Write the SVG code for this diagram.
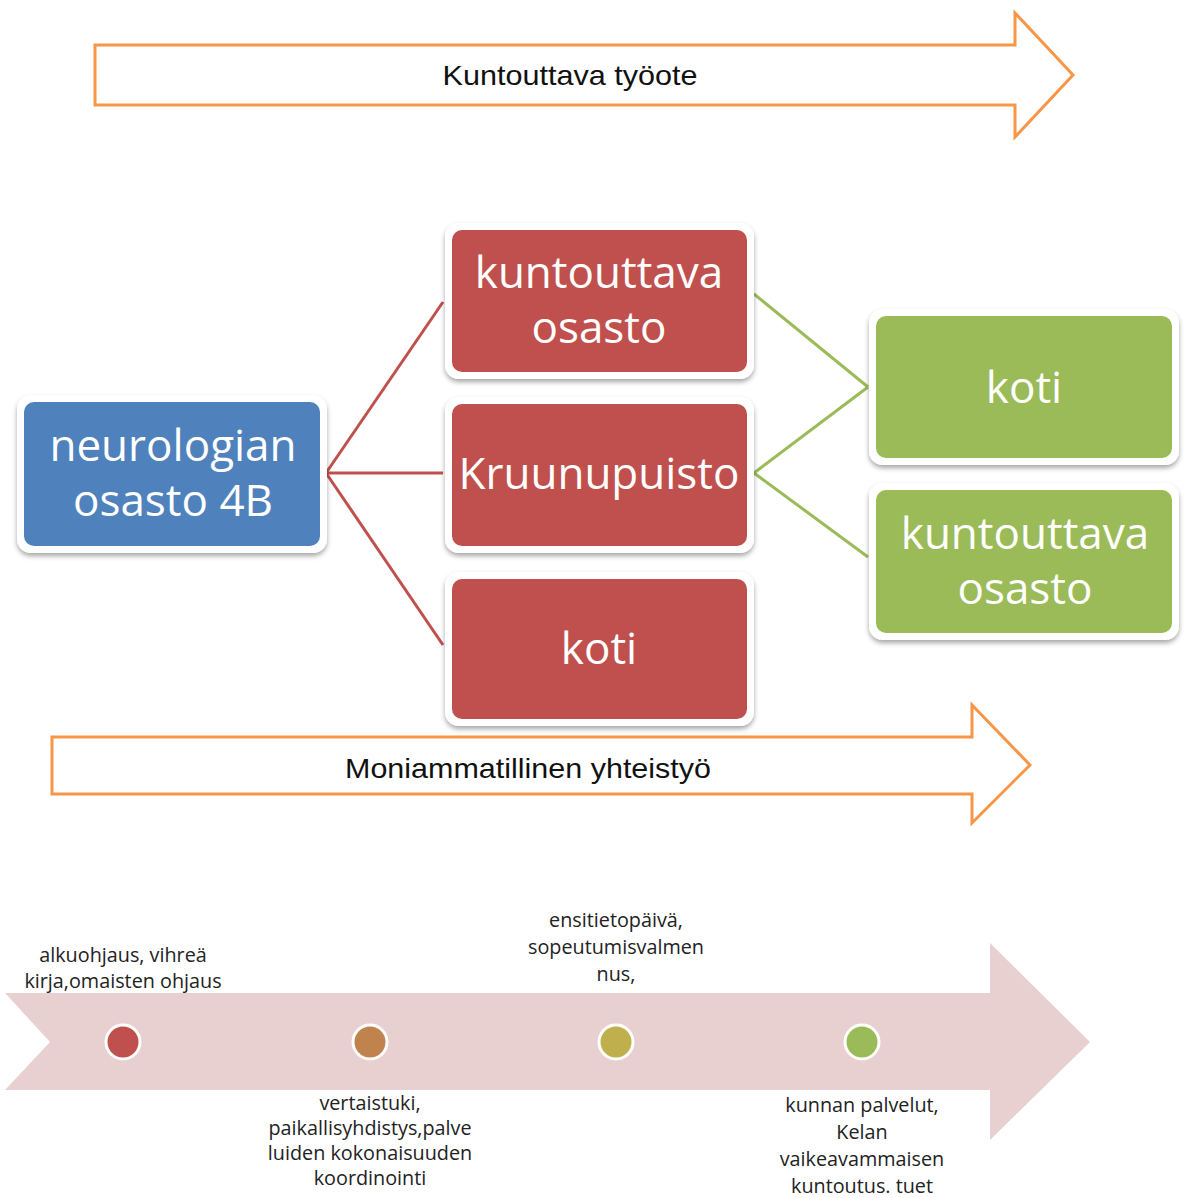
<svg xmlns="http://www.w3.org/2000/svg" width="1187" height="1198" viewBox="0 0 1187 1198">
<defs>
<filter id="sh" x="-10%" y="-10%" width="120%" height="130%">
<feDropShadow dx="0" dy="3" stdDeviation="2.5" flood-color="#000" flood-opacity="0.35"/>
</filter>
</defs>
<style>
.frame{fill:#fff;filter:url(#sh)}
.blue{fill:#4F81BD}
.red{fill:#C0504D}
.green{fill:#9BBB59}
.nt{font-family:"Open Sans","Noto Sans",sans-serif;font-size:44px;fill:#fff;text-anchor:middle}
.at{font-family:"Liberation Sans",Arial,sans-serif;font-size:28px;fill:#111;text-anchor:middle}
.bt{font-family:"Open Sans","Noto Sans",sans-serif;font-size:19.8px;fill:#222;text-anchor:middle}
.arr{fill:#fff;stroke:#F79646;stroke-width:3;stroke-linejoin:miter}
.dot{stroke:#fff;stroke-width:3}
</style>
<rect width="1187" height="1198" fill="#fff"/>

<g id="arrow-top">
<polygon class="arr" points="95,45 1015,45 1015,13 1073,75 1015,137 1015,105 95,105"/>
<text class="at" x="570" y="85" textLength="255" lengthAdjust="spacingAndGlyphs">Kuntouttava työote</text>
</g>

<g id="connectors" fill="none" stroke-width="3">
<g stroke="#C0504D">
<line x1="326" y1="473" x2="443" y2="302"/>
<line x1="326" y1="473" x2="443" y2="473"/>
<line x1="326" y1="473" x2="443" y2="645"/>
</g>
<g stroke="#9BBB59">
<line x1="754" y1="294" x2="868" y2="387"/>
<line x1="754" y1="473" x2="868" y2="387"/>
<line x1="754" y1="473" x2="868" y2="557"/>
</g>
</g>

<g id="node-neurologian">
<rect class="frame" x="17" y="395" width="310" height="158" rx="14"/>
<rect class="blue" x="24" y="402" width="296" height="144" rx="10"/>
<text class="nt" x="173" y="461">neurologian</text>
<text class="nt" x="173" y="516">osasto 4B</text>
</g>

<g id="node-kuntouttava-red">
<rect class="frame" x="445" y="223" width="309" height="156" rx="14"/>
<rect class="red" x="452" y="230" width="295" height="142" rx="10"/>
<text class="nt" x="599" y="288">kuntouttava</text>
<text class="nt" x="599" y="343">osasto</text>
</g>

<g id="node-kruunupuisto">
<rect class="frame" x="445" y="397" width="309" height="156" rx="14"/>
<rect class="red" x="452" y="404" width="295" height="142" rx="10"/>
<text class="nt" x="599" y="489">Kruunupuisto</text>
</g>

<g id="node-koti-red">
<rect class="frame" x="445" y="572" width="309" height="154" rx="14"/>
<rect class="red" x="452" y="579" width="295" height="140" rx="10"/>
<text class="nt" x="599" y="664">koti</text>
</g>

<g id="node-koti-green">
<rect class="frame" x="869" y="309" width="310" height="156" rx="14"/>
<rect class="green" x="876" y="316" width="296" height="142" rx="10"/>
<text class="nt" x="1024" y="403">koti</text>
</g>

<g id="node-kuntouttava-green">
<rect class="frame" x="869" y="483" width="310" height="157" rx="14"/>
<rect class="green" x="876" y="490" width="296" height="143" rx="10"/>
<text class="nt" x="1025" y="549">kuntouttava</text>
<text class="nt" x="1025" y="604">osasto</text>
</g>

<g id="arrow-middle">
<polygon class="arr" points="52,737 972,737 972,705 1030,765 972,823 972,794 52,794"/>
<text class="at" x="528" y="778" textLength="366" lengthAdjust="spacingAndGlyphs">Moniammatillinen yhteistyö</text>
</g>

<g id="timeline">
<polygon fill="#E8D0D0" points="5,993 990,993 990,943 1090,1042 990,1140 990,1090 5,1090 50,1042"/>
<circle class="dot" cx="123" cy="1042" r="17" fill="#C0504D"/>
<circle class="dot" cx="370" cy="1042" r="17" fill="#C0834D"/>
<circle class="dot" cx="616" cy="1042" r="17" fill="#C0B04D"/>
<circle class="dot" cx="862" cy="1042" r="17" fill="#9BBB59"/>
<text class="bt" x="123" y="962">alkuohjaus, vihreä</text>
<text class="bt" x="123" y="988">kirja,omaisten ohjaus</text>
<text class="bt" x="616" y="927">ensitietopäivä,</text>
<text class="bt" x="616" y="954">sopeutumisvalmen</text>
<text class="bt" x="616" y="981">nus,</text>
<text class="bt" x="370" y="1110">vertaistuki,</text>
<text class="bt" x="370" y="1135">paikallisyhdistys,palve</text>
<text class="bt" x="370" y="1160">luiden kokonaisuuden</text>
<text class="bt" x="370" y="1185">koordinointi</text>
<text class="bt" x="862" y="1112">kunnan palvelut,</text>
<text class="bt" x="862" y="1139">Kelan</text>
<text class="bt" x="862" y="1166">vaikeavammaisen</text>
<text class="bt" x="862" y="1193">kuntoutus. tuet</text>
</g>
</svg>
